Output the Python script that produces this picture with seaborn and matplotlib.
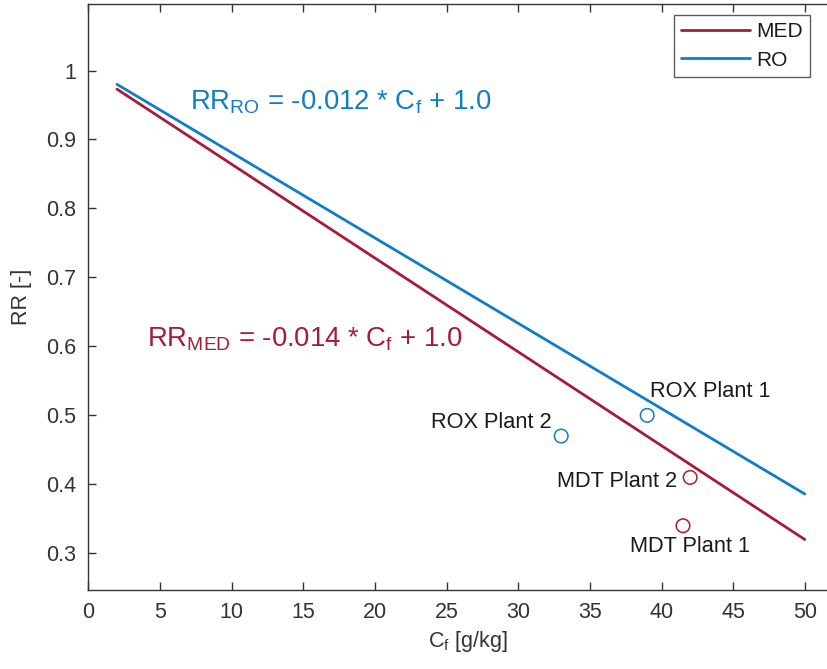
import numpy as np
import pandas as pd
import matplotlib
matplotlib.use("Agg")
import matplotlib.pyplot as plt
import seaborn as sns
from matplotlib.lines import Line2D

# ---- data ----
line_x = [2, 50]
med_y = [0.973, 0.320]
ro_y = [0.980, 0.386]

plant_labels = ["ROX Plant 1", "ROX Plant 2", "MDT Plant 2", "MDT Plant 1"]
plant_x = [39.0, 33.0, 42.0, 41.5]
plant_y = [0.50, 0.47, 0.41, 0.34]
plant_group = ["RO", "RO", "MED", "MED"]

x_ticks = [0, 5, 10, 15, 20, 25, 30, 35, 40, 45, 50]
y_ticks = [0.3, 0.4, 0.5, 0.6, 0.7, 0.8, 0.9, 1.0]
y_tick_labels = ["0.3", "0.4", "0.5", "0.6", "0.7", "0.8", "0.9", "1"]

eq_ro = r"RR$_{\mathregular{RO}}$ = -0.012 * C$_{\mathregular{f}}$ + 1.0"
eq_med = r"RR$_{\mathregular{MED}}$ = -0.014 * C$_{\mathregular{f}}$ + 1.0"

# ---- style ----
sns.set_style("ticks")
plt.rcParams["font.family"] = ["Liberation Sans", "DejaVu Sans"]
plt.rcParams["mathtext.fontset"] = "custom"
plt.rcParams["mathtext.rm"] = "Liberation Sans"
plt.rcParams["mathtext.it"] = "Liberation Sans:italic"

RED = "#A61C38"
BLUE = "#117DC6"
AX = "#333333"
palette = {"MED": RED, "RO": BLUE}

lines_df = pd.DataFrame({
    "Cf": line_x + line_x,
    "RR": med_y + ro_y,
    "tech": ["MED"] * len(line_x) + ["RO"] * len(line_x),
})
pts_df = pd.DataFrame({"Cf": plant_x, "RR": plant_y, "tech": plant_group, "label": plant_labels})

fig = plt.figure(figsize=(8.27, 6.69), dpi=100)
# axes extend past the right edge of the figure (as in the reference crop)
px_per_unit = 14.33
x_right = 53.0
ax = fig.add_axes([88.3 / 827, 1 - 590 / 669, x_right * px_per_unit / 827, (590 - 4.3) / 669])

sns.lineplot(data=lines_df, x="Cf", y="RR", hue="tech", palette=palette,
             linewidth=2, ax=ax, legend=False)
sns.scatterplot(data=pts_df, x="Cf", y="RR", hue="tech", palette=palette,
                marker="o", s=95, linewidth=1.1, ax=ax, legend=False)
coll = ax.collections[-1]
coll.set_facecolor("none")
coll.set_edgecolors([palette[g] for g in plant_group])

ax.set_xlim(0, x_right)
ax.set_ylim(0.2468, 1.096)
ax.set_xticks(x_ticks)
ax.set_xticklabels([str(t) for t in x_ticks])
ax.set_yticks(y_ticks)
ax.set_yticklabels(y_tick_labels)
ax.tick_params(direction="in", top=True, right=False, length=6, width=1,
               color=AX, labelcolor=AX, labelsize=15.5, pad=9)
for s in ax.spines.values():
    s.set_color(AX)
    s.set_linewidth(1)
ax.spines["right"].set_visible(False)

ax.set_xlabel(r"C$_{\mathregular{f}}$ [g/kg]", fontsize=15.5, color=AX, labelpad=4)
ax.set_ylabel("RR [-]", fontsize=15.5, color=AX, labelpad=10)

ann = {
    "ROX Plant 1": (39.2, 0.534, "left"),
    "ROX Plant 2": (32.3, 0.489, "right"),
    "MDT Plant 2": (41.1, 0.404, "right"),
    "MDT Plant 1": (37.8, 0.310, "left"),
}
for lab in plant_labels:
    x, y, ha = ann[lab]
    ax.text(x, y, lab, ha=ha, va="center", fontsize=15.7, color="#1a1a1a")

ax.text(7.1, 0.943, eq_ro, color=BLUE, fontsize=19.8, ha="left", va="baseline")
ax.text(4.1, 0.600, eq_med, color=RED, fontsize=19.8, ha="left", va="baseline")

handles = [Line2D([], [], color=RED, lw=2), Line2D([], [], color=BLUE, lw=2)]
leg = ax.legend(handles, ["MED", "RO"], loc="upper right",
                bbox_to_anchor=(810 / 827, 1 - 15 / 669), bbox_transform=fig.transFigure,
                fontsize=15, frameon=True, fancybox=False, handlelength=3.3,
                borderpad=0.35, labelspacing=0.45, handletextpad=0.3, borderaxespad=0)
leg.get_frame().set_edgecolor(AX)
leg.get_frame().set_linewidth(1)
for t in leg.get_texts():
    t.set_color("#1a1a1a")

fig.savefig("out.png", dpi=100)
